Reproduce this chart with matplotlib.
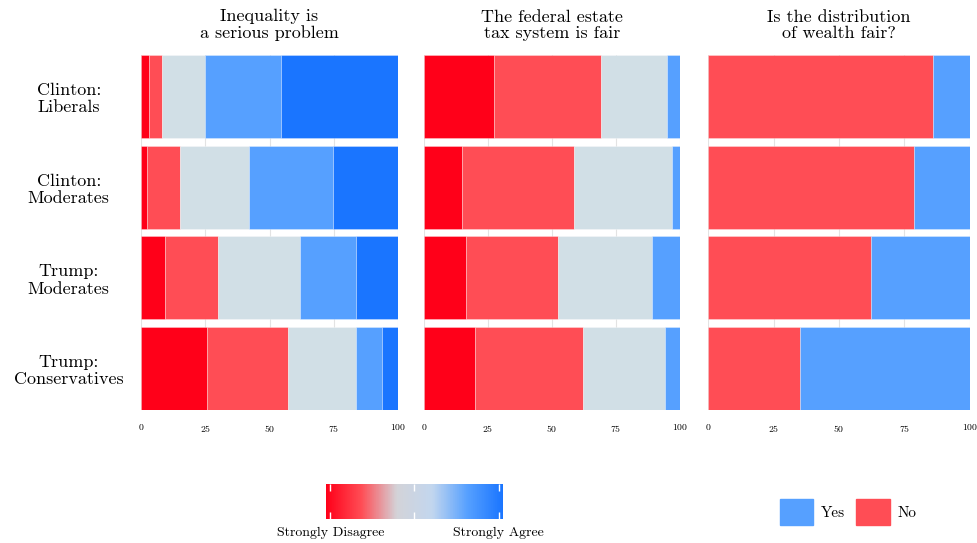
import numpy as np
import matplotlib
matplotlib.use("Agg")
import matplotlib.pyplot as plt
from matplotlib.colors import LinearSegmentedColormap, Normalize
from matplotlib.cm import ScalarMappable
from matplotlib.patches import Patch

plt.rcParams['font.family'] = ['cmr10', 'DejaVu Serif']
plt.rcParams['mathtext.fontset'] = 'cm'
plt.rcParams['axes.formatter.use_mathtext'] = True

# groups (top to bottom)
groups = ["Clinton:\nLiberals", "Clinton:\nModerates", "Trump:\nModerates", "Trump:\nConservatives"]
titles = ["Inequality is\na serious problem", "The federal estate\ntax system is fair",
          "Is the distribution\nof wealth fair?"]

# percent shares, 5-point scale: strongly disagree .. strongly agree
ineq_sd = [3.2, 2.2, 9.5, 25.7]
ineq_d = [5.1, 13.0, 20.5, 31.5]
ineq_n = [16.5, 26.8, 32.0, 26.5]
ineq_a = [29.6, 32.6, 21.5, 10.2]
ineq_sa = [45.6, 25.4, 16.5, 6.1]

tax_sd = [27.2, 14.7, 16.3, 20.0]
tax_d = [41.8, 43.7, 36.0, 42.2]
tax_n = [25.8, 38.6, 36.9, 31.8]
tax_a = [5.2, 3.0, 10.8, 6.0]

wealth_no = [85.7, 78.7, 62.1, 35.2]
wealth_yes = [14.3, 21.3, 37.9, 64.8]

c_sd = "#FF0019"
c_d = "#FF4D55"
c_n = "#D1DFE6"
c_a = "#56A0FF"
c_sa = "#1A75FF"

fig = plt.figure(figsize=(9.78, 5.43), dpi=100)
H = 543
W = 978
def frame(x0, x1):
    return [x0 / W, 1 - 410 / H, (x1 - x0) / W, (410 - 55) / H]

ax1 = fig.add_axes(frame(141, 398))
ax2 = fig.add_axes(frame(424, 680))
ax3 = fig.add_axes(frame(708, 970))

y = np.arange(len(groups))
h = 0.915

def stack(ax, parts, colors):
    left = np.zeros(len(groups))
    for vals, col in zip(parts, colors):
        ax.barh(y, vals, left=left, height=h, color=col,
                edgecolor=(1, 1, 1, 0.35), linewidth=0.6, zorder=2)
        left = left + np.array(vals)

stack(ax1, [ineq_sd, ineq_d, ineq_n, ineq_a, ineq_sa], [c_sd, c_d, c_n, c_a, c_sa])
stack(ax2, [tax_sd, tax_d, tax_n, tax_a], [c_sd, c_d, c_n, c_a])
stack(ax3, [wealth_no, wealth_yes], [c_d, c_a])

for i, ax in enumerate([ax1, ax2, ax3]):
    ax.set_xlim(0, 100)
    ax.set_ylim(3 + h / 2, -h / 2)
    ax.set_xticks([0, 25, 50, 75, 100])
    ax.tick_params(axis='x', length=0, labelsize=7, pad=9)
    ax.grid(axis='x', color='#E3E3E3', linewidth=0.8, zorder=0)
    for s in ax.spines.values():
        s.set_visible(False)
    ax.set_title(titles[i], fontsize=13, pad=12, linespacing=1.1)
    if i == 0:
        ax.set_yticks(y)
        ax.set_yticklabels(groups, fontsize=13, ha='center', linespacing=1.15)
        ax.tick_params(axis='y', length=0, pad=52)
    else:
        ax.set_yticks([])

# colour bar for the agree scale
cmap = LinearSegmentedColormap.from_list(
    "agree", [c_sd, "#FF4D55", "#D3D3D8", "#C2D6EE", c_a, c_sa])
cax = fig.add_axes([326 / W, 1 - 519 / H, (503 - 326) / W, 35 / H])
sm = ScalarMappable(norm=Normalize(0.9, 5.1), cmap=cmap)
cb = fig.colorbar(sm, cax=cax, orientation='horizontal', ticks=[1, 3, 5])
cb.outline.set_visible(False)
cb.ax.set_xticklabels(["Strongly Disagree", "", "Strongly Agree"], fontsize=10)
cb.ax.tick_params(color='white', direction='in', length=5, width=1, top=True, pad=6)

# legend for the yes/no panel
handles = [Patch(color=c_a, label="Yes"), Patch(color=c_d, label="No")]
fig.legend(handles=handles, loc='center', bbox_to_anchor=(848 / W, 1 - 512 / H), ncol=2,
           frameon=False, fontsize=11, handlelength=2.2, handleheight=2.2,
           columnspacing=0.7, handletextpad=0.5)

fig.savefig("out.png", dpi=100)
